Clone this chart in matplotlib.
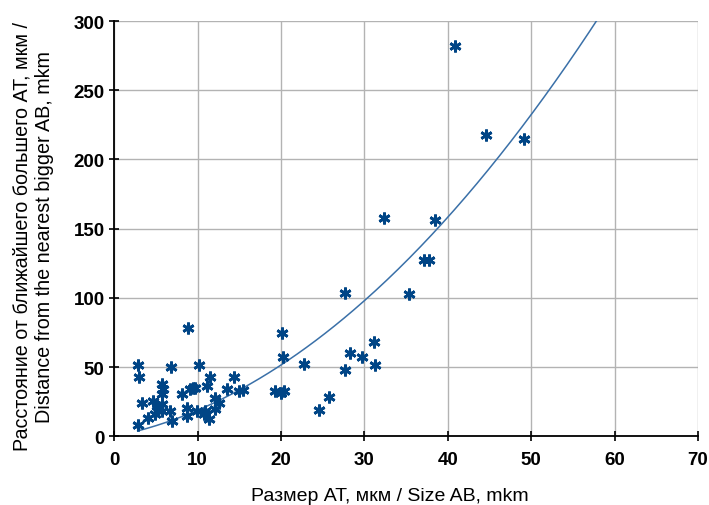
import numpy as np
import matplotlib
matplotlib.use('Agg')
import matplotlib.pyplot as plt

plt.rcParams['font.family'] = ['Liberation Sans', 'DejaVu Sans']

# size AB (mkm) and distance to nearest bigger AB (mkm)
size_ab = [40.9, 44.6, 49.1, 32.3, 38.4, 37.2, 37.7, 35.4, 27.7, 20.1,
           20.2, 22.7, 31.2, 28.3, 29.7, 31.3, 27.7, 25.7, 24.6, 19.3,
           20.0, 20.3, 8.8, 2.8, 3.0, 6.8, 10.1, 11.5, 14.3, 11.1,
           9.1, 9.7, 9.4, 13.5, 14.9, 15.4, 12.1, 12.5, 8.7, 9.9,
           10.9, 12.1, 8.7, 11.3, 10.7, 5.7, 5.8, 5.7, 8.1, 3.3,
           4.7, 5.1, 5.7, 6.7, 4.1, 4.9, 5.7, 6.9, 2.9]
dist_ab = [282, 218, 215, 158, 156, 127.5, 127.5, 103, 103.5, 74.5,
           57, 52, 68, 60, 57.5, 51.5, 48, 28.5, 19, 32.5,
           31.5, 33, 78.5, 51.5, 42.5, 50, 51.5, 43, 42.5, 36.4,
           34, 35.2, 34.6, 34, 32.8, 33.2, 28, 24.4, 20.7, 18.3,
           18.3, 19.5, 14.7, 12.3, 15.9, 37.6, 34, 30.4, 30.4, 24.4,
           25.5, 21.9, 23.1, 18.3, 13.5, 15.9, 18.3, 11.1, 8]

x = np.array(size_ab)
y = np.array(dist_ab)

# polynomial (2nd order) trendline through the origin
A = np.column_stack([x, x ** 2])
c1, c2 = np.linalg.lstsq(A, y, rcond=None)[0]
xt = np.linspace(x.min(), 70, 300)
yt = c1 * xt + c2 * xt ** 2

fig = plt.figure(figsize=(7.09, 5.06), dpi=100)
ax = fig.add_axes([0.1612, 0.1357, 0.8233, 0.8208])

ax.plot(xt, yt, color='#3a70a8', lw=1.1, zorder=2)
ax.plot(x, y, ls='none', marker=(6, 2, 0), ms=8.5, mew=2.0,
        color='#004586', zorder=3)

ax.set_xlim(0, 70)
ax.set_ylim(0, 300)
ax.set_xticks(range(0, 71, 10))
ax.set_yticks(range(0, 301, 50))
ax.grid(True, color='#b3b3b3', lw=1)
ax.set_axisbelow(True)

for s in ['top', 'right']:
    ax.spines[s].set_visible(False)
for s in ['left', 'bottom']:
    ax.spines[s].set_linewidth(1.3)
    ax.spines[s].set_color('black')

ax.tick_params(direction='inout', length=7, width=1.2, labelsize=13.5)
ax.tick_params(axis='x', pad=7)
ax.tick_params(axis='y', pad=3.5)
for lab in ax.get_xticklabels() + ax.get_yticklabels():
    lab.set_fontweight('bold')

ax.set_xlabel('Размер АТ, мкм / Size AB, mkm', fontsize=14, labelpad=14)
ax.set_ylabel('Расстояние от ближайшего большего АТ, мкм /\nDistance from the nearest bigger AB, mkm',
              fontsize=14.2, labelpad=14)
ax.xaxis.label.set_x(0.472)
ax.yaxis.label.set_y(0.483)

fig.savefig('out.png', dpi=100)
